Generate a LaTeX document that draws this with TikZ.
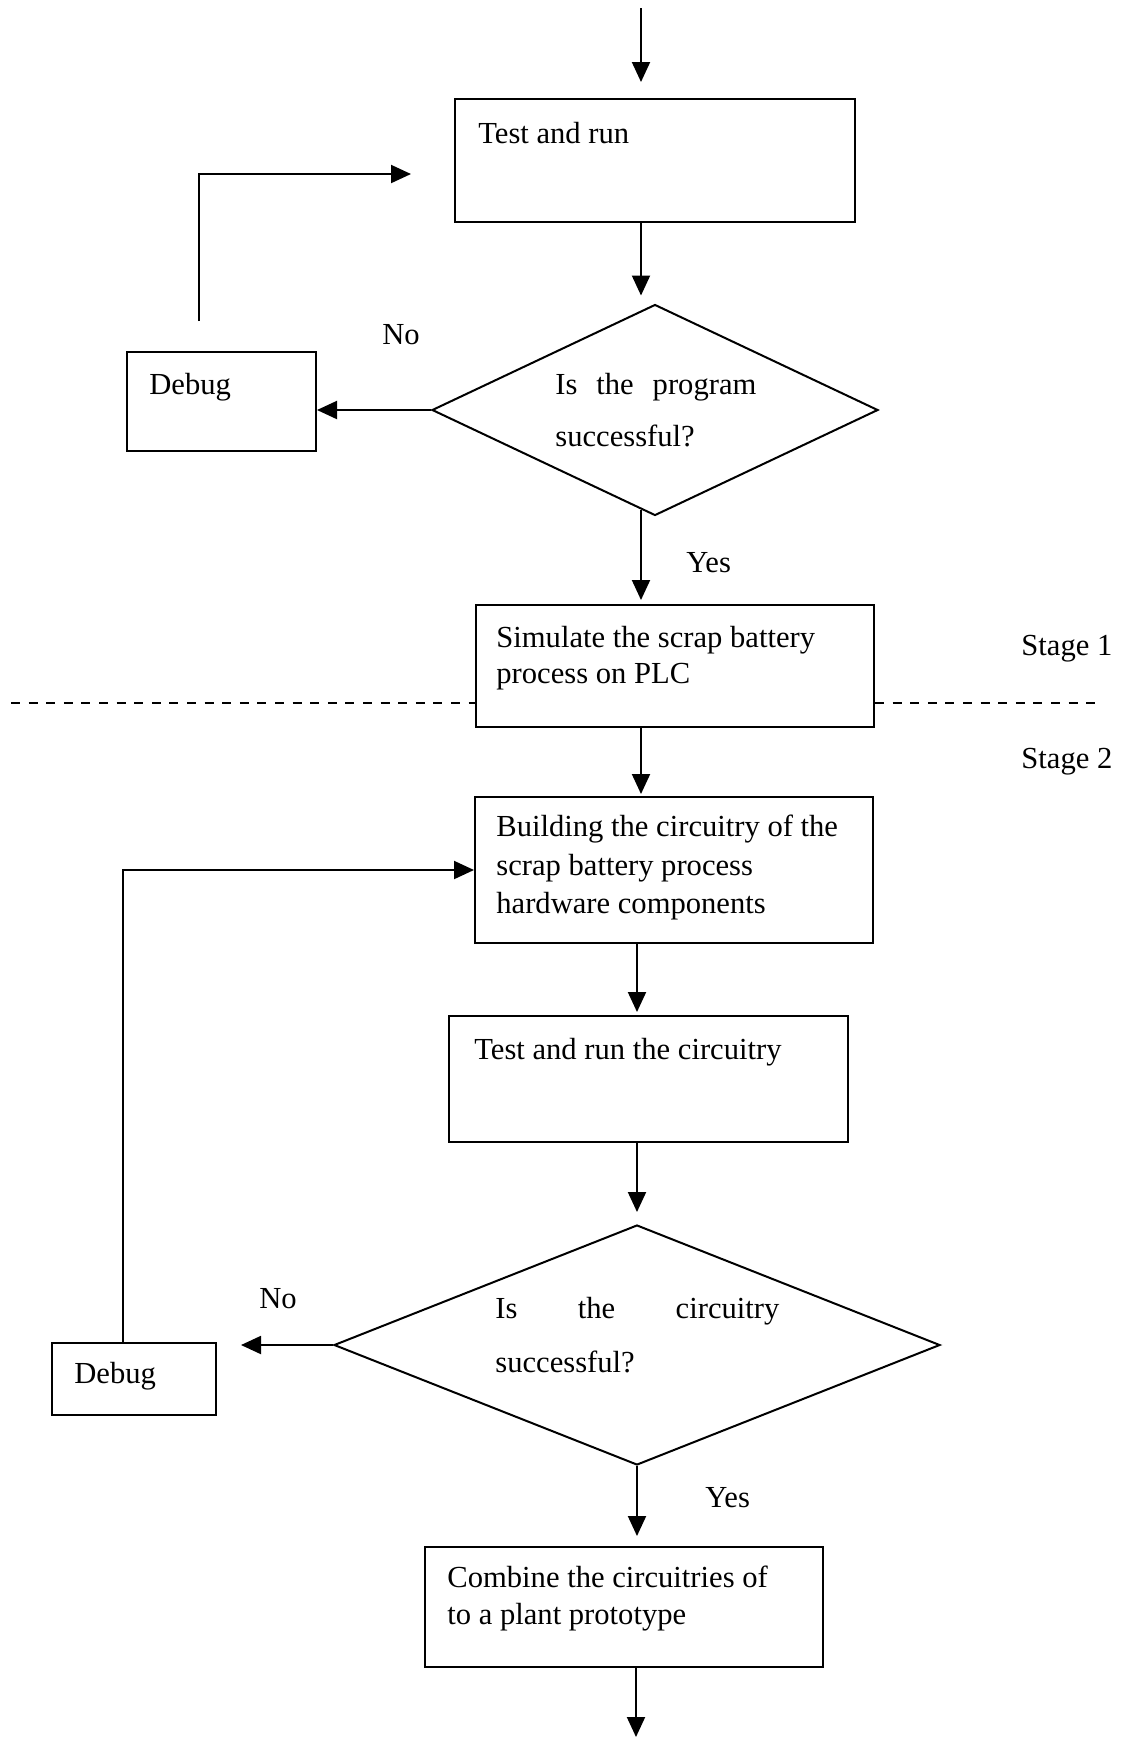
\documentclass[tikz,border=0pt]{standalone}
\usepackage{fontspec}
\setmainfont{Liberation Serif}
\usetikzlibrary{arrows.meta,shapes.geometric}
\begin{document}
\begin{tikzpicture}[x=0.5pt,y=-0.5pt,
  box/.style={draw,line width=1pt,rectangle,inner sep=0pt},
  decision/.style={draw,line width=1pt,diamond,inner sep=0pt},
  txt/.style={inner sep=0pt,anchor=base west,font=\fontsize{15.3pt}{19pt}\selectfont},
  arr/.style={line width=1pt,-{Triangle[length=10pt,width=9pt]}},
  sep/.style={line width=1pt,dash pattern=on 4.5pt off 4.3pt}]
\useasboundingbox (0,0) rectangle (1122,1737);

% columns of the main vertical flow and the loop-back lines
\coordinate (colA) at (641,0);
\coordinate (colB) at (637,0);
\coordinate (l2) at (123,0);

% ---------- Stage 1 ----------
\node[box,minimum width=200pt,minimum height=61.5pt] (t1) at (655,160.5) {};
\node[txt] (t1a) at (478,143) {Test and run};

\node[decision,minimum width=223pt,minimum height=105.5pt] (d1) at (655,410) {};
\node[txt] (d1a) at (555,394) {\makebox[100.5pt][s]{Is the program}};
\node[txt] (d1b) at (555,446) {successful?};

\node[box,minimum width=94.5pt,minimum height=49.5pt] (dbg1) at (221.5,401.5) {};
\node[txt] (dbg1a) at (149,394) {Debug};

\node[txt] (no1) at (382,344) {No};
\node[txt] (yes1) at (686,572) {Yes};

\node[box,minimum width=199pt,minimum height=61pt] (sim) at (675,666) {};
\node[txt] (sima) at (496,647) {Simulate the scrap battery};
\node[txt] (simb) at (496,683) {process on PLC};

% stage separator
\coordinate (sepL) at (11,703);
\coordinate (sepR) at (1096,703);
\draw[sep] (sepL) -- (sepL -| sim.west);
\draw[sep] (sepR -| sim.east) -- (sepR);
\node[txt] (st1) at (1021,655) {Stage 1};
\node[txt] (st2) at (1021,768) {Stage 2};

% ---------- Stage 2 ----------
\node[box,minimum width=199pt,minimum height=73pt] (build) at (674,870) {};
\node[txt] (builda) at (496,836) {Building the circuitry of the};
\node[txt] (buildb) at (496,875) {scrap battery process};
\node[txt] (buildc) at (496,913) {hardware components};

\node[box,minimum width=199.5pt,minimum height=63pt] (t2) at (648.5,1079) {};
\node[txt] (t2a) at (474,1059) {Test and run the circuitry};

\node[decision,minimum width=303pt,minimum height=120pt] (d2) at (637,1345) {};
\node[txt] (d2a) at (495,1318) {\makebox[142pt][s]{Is the circuitry}};
\node[txt] (d2b) at (495,1372) {successful?};

\node[box,minimum width=82pt,minimum height=36pt] (dbg2) at (134,1379) {};
\node[txt] (dbg2a) at (74,1383) {Debug};

\node[txt] (no2) at (259,1308) {No};
\node[txt] (yes2) at (705,1507) {Yes};

\node[box,minimum width=199pt,minimum height=60pt] (comb) at (624,1607) {};
\node[txt] (comba) at (447,1587) {Combine the circuitries of};
\node[txt] (combb) at (447,1624) {to a plant prototype};

% ---------- connectors ----------
\coordinate (top) at (641,8);
\coordinate (bot) at (636,1737);
\coordinate (l1a) at (199,321);
\coordinate (l1b) at (411,174);

\draw[arr,shorten >=8pt] (top) -- (t1.north -| top);
\draw[arr,shorten >=4pt] (t1.south -| colA) -- (d1.north -| colA);
\draw[arr] (d1.west) -- (d1.west -| dbg1.east);
\draw[arr] (l1a) |- (l1b);
\draw[arr,shorten <=-3.5pt,shorten >=2pt] (d1.south -| colA) -- (sim.north -| colA);
\draw[arr,shorten >=1pt] (sim.south -| colA) -- (build.north -| colA);
\draw[arr,shorten >=1.5pt] (build.south -| colB) -- (t2.north -| colB);
\draw[arr,shorten >=6pt] (t2.south -| colB) -- (d2.north);
\draw[arr,shorten >=12pt] (d2.west) -- (d2.west -| dbg2.east);
\draw[arr] (dbg2.north -| l2) |- (build.west);
\draw[arr,shorten >=5pt] (d2.south) -- (comb.north -| d2.south);
\draw[arr] (comb.south -| bot) -- (bot);
\end{tikzpicture}
\end{document}
